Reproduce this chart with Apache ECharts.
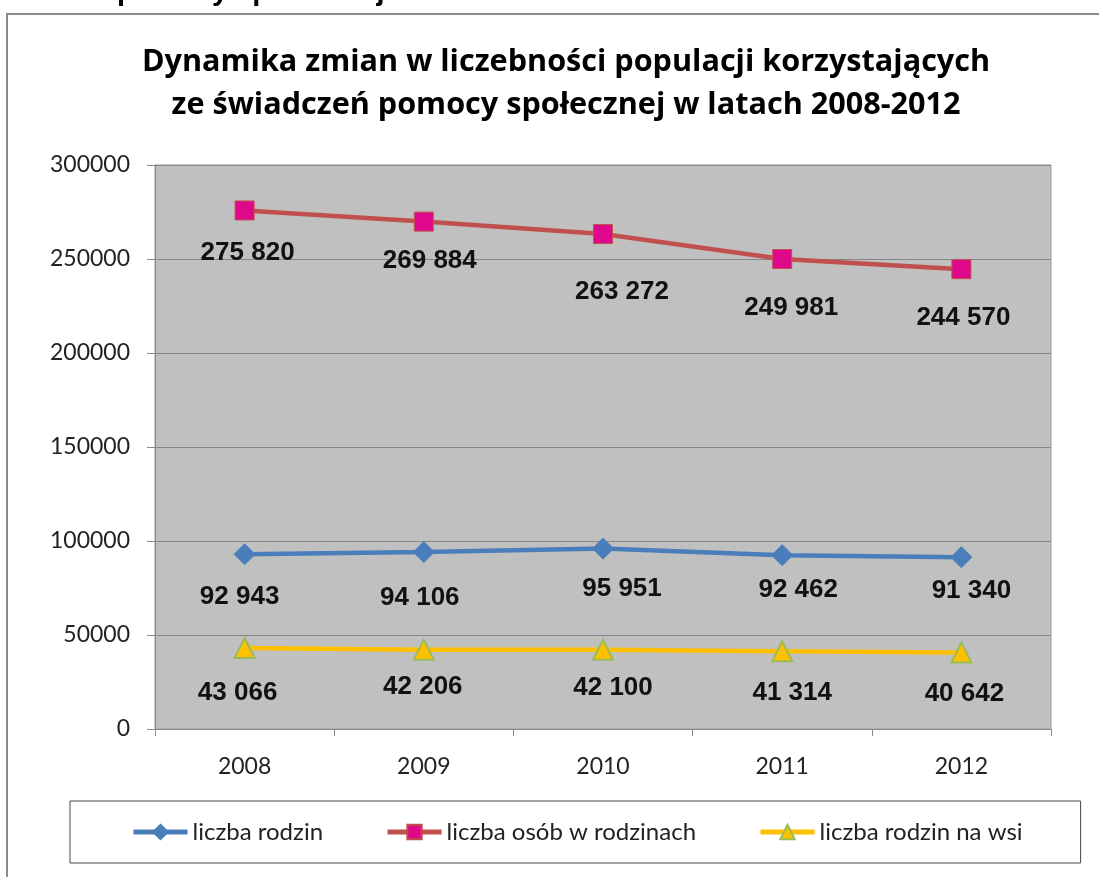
<!DOCTYPE html>
<html>
<head>
<meta charset="utf-8">
<script src="https://cdn.jsdelivr.net/npm/echarts@6/dist/echarts.min.js"></script>
<style>html,body{margin:0;padding:0;background:#fff}#c{width:1099px;height:877px}</style>
</head>
<body>
<div id="c"></div>
<script>
const years = ['2008', '2009', '2010', '2011', '2012'];
const liczbaRodzin = [92943, 94106, 95951, 92462, 91340];
const liczbaOsob = [275820, 269884, 263272, 249981, 244570];
const rodzinNaWsi = [43066, 42206, 42100, 41314, 40642];
const seriesNames = ['liczba rodzin', 'liczba osób w rodzinach', 'liczba rodzin na wsi'];
const yTicks = [0, 50000, 100000, 150000, 200000, 250000, 300000];

// layout only: label nudges (px) relative to each marker, as placed in the original
const labelNudgeRodzin = [[-5, 43], [-4, 46], [19, 40], [16, 35], [10, 34]];
const labelNudgeOsob = [[3, 42], [6, 39], [19, 58], [9, 49], [2, 49]];
const labelNudgeWsi = [[-7, 45], [-1, 37], [10, 38], [10, 41], [3, 41]];

const fmt = v => {
  const s = String(v);
  return s.length > 3 ? s.slice(0, s.length - 3) + ' ' + s.slice(-3) : s;
};
const withLabels = (values, nudges) => values.map((v, i) => ({
  value: v,
  label: { offset: nudges[i] }
}));
const labelStyle = {
  show: true, position: 'inside',
  formatter: p => fmt(p.value),
  fontFamily: 'Liberation Sans, Arial, sans-serif', fontWeight: 'bold',
  fontSize: 26, color: '#111'
};

const chart = echarts.init(document.getElementById('c'));
chart.setOption({
  animation: false,
  backgroundColor: '#fff',
  graphic: [
    { type: 'rect', shape: { x: 7, y: 14, width: 1100, height: 900 },
      style: { fill: 'none', stroke: '#8a8a8a', lineWidth: 2 }, z: -1 },
    { type: 'text', x: 117, y: -8,
      style: { text: 'pomocy społecznej', x: 0, y: 0, verticalAlign: 'middle',
        font: 'bold 29px "Liberation Sans", Arial, sans-serif', fill: '#000' } }
  ],
  title: {
    text: 'Dynamika zmian w liczebności populacji korzystających\nze świadczeń pomocy społecznej w latach 2008-2012',
    left: 561, top: 36, textAlign: 'center',
    textStyle: { fontFamily: '"Open Sans", sans-serif', fontWeight: 'bold', fontSize: 30.6, lineHeight: 43, color: '#000' }
  },
  grid: { left: 155, right: 48, top: 165, bottom: 148, show: true,
    backgroundColor: '#c0c0c0', borderColor: '#9a9a9a', borderWidth: 1 },
  legend: {
    left: 70, top: 801,
    padding: [19, 58, 19, 61],
    borderColor: '#444', borderWidth: 1,
    itemWidth: 54, itemHeight: 18, itemGap: 62,
    lineStyle: { width: 5 },
    textStyle: { fontFamily: 'Lato, sans-serif', fontSize: 24, color: '#222', padding: [0, 0, 0, 0] },
    data: seriesNames
  },
  xAxis: {
    type: 'category', data: years, boundaryGap: true,
    axisLine: { lineStyle: { color: '#8a8a8a', width: 1 } },
    axisTick: { show: true, inside: false, length: 7, lineStyle: { color: '#8a8a8a' } },
    axisLabel: { margin: 26, fontFamily: 'Lato, sans-serif', fontSize: 23, color: '#222' }
  },
  yAxis: {
    type: 'value', min: 0, max: 300000, interval: 50000,
    axisLine: { show: true, lineStyle: { color: '#8a8a8a', width: 1 } },
    axisTick: { show: true, inside: false, length: 8, lineStyle: { color: '#8a8a8a' } },
    splitLine: { show: true, lineStyle: { color: '#868686', width: 1 } },
    axisLabel: { margin: 25, fontFamily: 'Lato, sans-serif', fontSize: 23, color: '#222',
      formatter: v => yTicks.includes(v) ? String(v) : '' }
  },
  series: [
    { name: seriesNames[0], type: 'line', data: withLabels(liczbaRodzin, labelNudgeRodzin),
      symbol: 'diamond', symbolSize: 21,
      lineStyle: { color: '#4a7ebb', width: 4.5 },
      itemStyle: { color: '#4a7ebb', borderColor: '#4a7ebb', borderWidth: 1 },
      label: labelStyle },
    { name: seriesNames[1], type: 'line', data: withLabels(liczbaOsob, labelNudgeOsob),
      symbol: 'rect', symbolSize: 19,
      lineStyle: { color: '#c0504d', width: 4.5 },
      itemStyle: { color: '#e0088a', borderColor: '#c0504d', borderWidth: 1 },
      label: labelStyle },
    { name: seriesNames[2], type: 'line', data: withLabels(rodzinNaWsi, labelNudgeWsi),
      symbol: 'triangle', symbolSize: 20,
      lineStyle: { color: '#ffc000', width: 4.5 },
      itemStyle: { color: '#ffc000', borderColor: '#9bbb59', borderWidth: 2 },
      label: labelStyle }
  ]
});
</script>
</body>
</html>
